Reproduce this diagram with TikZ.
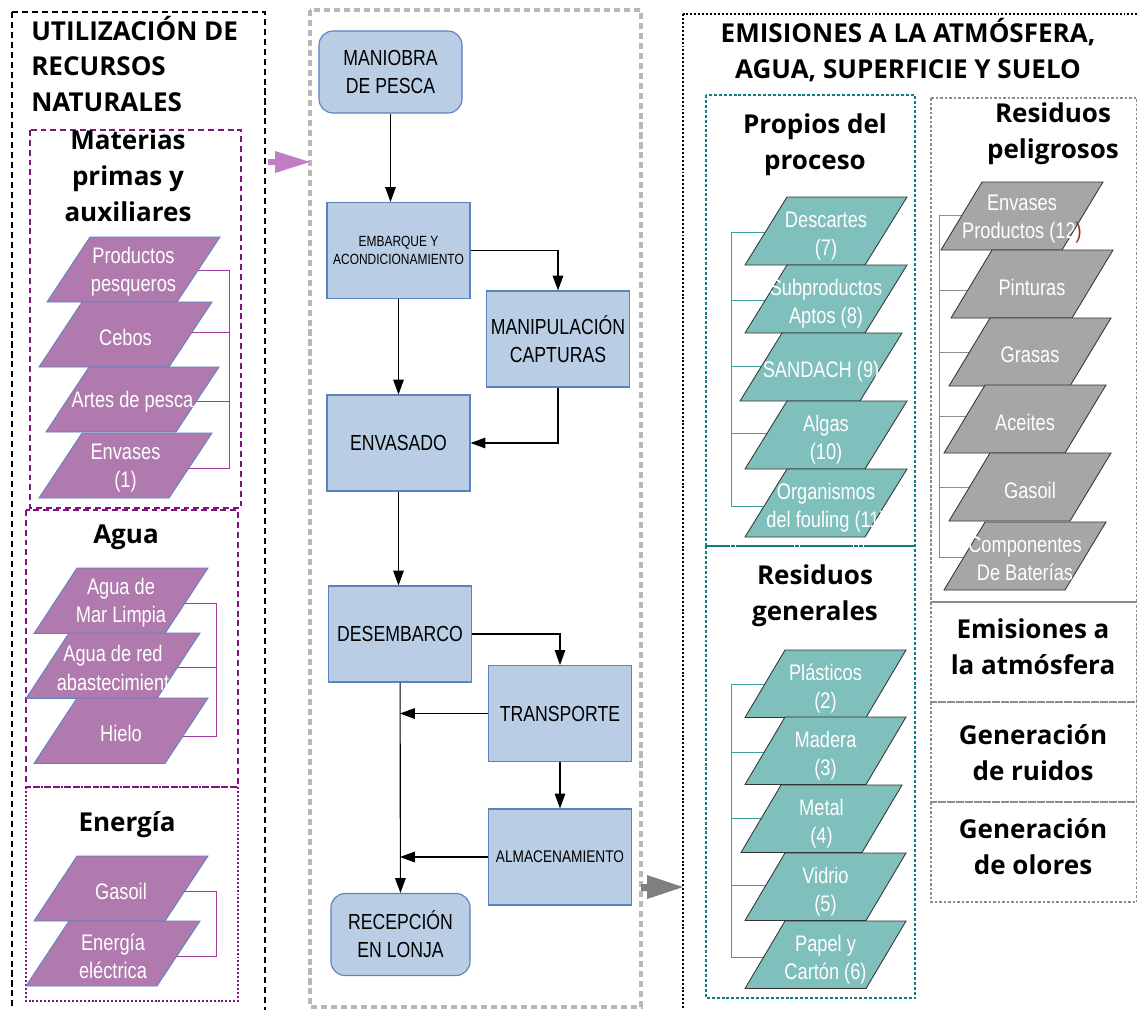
\documentclass[tikz,border=0pt]{standalone}
\usepackage{fontspec}
\setmainfont{Open Sans}
\newfontfamily\estrecha[FakeStretch=0.81]{Liberation Sans}
\usetikzlibrary{arrows.meta,positioning}

\definecolor{moradoR}{HTML}{B07AAE}
\definecolor{moradoL}{HTML}{7F1480}
\definecolor{moradoC}{HTML}{9E3CA0}
\definecolor{azulR}{HTML}{B9CDE5}
\definecolor{azulB}{HTML}{5A82BE}
\definecolor{verdeR}{HTML}{7FBFBC}
\definecolor{verdeL}{HTML}{0E7F7C}
\definecolor{verdeC}{HTML}{3C9E9A}
\definecolor{grisR}{HTML}{A6A6A6}
\definecolor{grisL}{HTML}{8C8C8C}
\definecolor{grisM}{HTML}{B8B8B8}
\definecolor{flechaM}{HTML}{C27EC2}
\definecolor{flechaG}{HTML}{7F7F7F}
\definecolor{rojoO}{HTML}{A02020}

\begin{document}
\begin{tikzpicture}[x=0.025cm, y=-0.025cm,
    titulo/.style={font=\fontsize{18.5}{25.5}\selectfont\bfseries, align=center, inner sep=0pt},
    proceso/.style={draw=azulB, fill=azulR, line width=0.8pt, minimum width=3.575cm,
        minimum height=2.4cm, align=center, inner sep=1pt, font=\estrecha\fontsize{15.5}{20}\selectfont},
    inicio/.style={proceso, rounded corners=10pt, minimum height=2.05cm},
    flecha/.style={-{Triangle[length=10.5pt,width=7.5pt]}, line width=0.8pt},
    partexto/.style={text=white, align=center, inner sep=0pt, font=\estrecha\fontsize{16}{20}\selectfont},
    parmorado/.style={fill=moradoR, draw=azulB, line width=0.6pt},
    parverde/.style={fill=verdeR, draw=black!80, line width=0.6pt},
    pargris/.style={fill=grisR, draw=black!80, line width=0.6pt},
    marcoMorado/.style={draw=moradoL, line width=1.5pt, dash pattern=on 4.2pt off 2.8pt},
    marcoVerde/.style={draw=verdeL, line width=1.4pt, dash pattern=on 2.1pt off 1.4pt},
    marcoGris/.style={draw=grisL, line width=1.1pt, dash pattern=on 1.8pt off 1.4pt}]

    \useasboundingbox[fill=white] (0,0) rectangle (1137,1009);

    % marcos de los bloques
    \draw[line width=1.6pt, dash pattern=on 4.3pt off 2.8pt] (12,12) rectangle (265,1030);
    \draw[grisM, line width=2.2pt, dash pattern=on 4.3pt off 2.8pt] (310,10) rectangle (641,1007);
    \draw[line width=1.5pt, dash pattern=on 1.4pt off 1.4pt] (683,14) rectangle (1160,1030);
    \draw[marcoMorado] (30,130) rectangle (241,508);
    \draw[marcoMorado] (26,510) rectangle (238,787);
    \draw[marcoMorado, dash pattern=on 1.4pt off 1.4pt] (26,787) rectangle (238,1001);
    \draw[marcoVerde] (706,95) rectangle (915,546);
    \draw[marcoVerde] (706,546) rectangle (915,998);
    \foreach \ya/\yb in {98/602, 602/702, 702/802, 802/902}
        \draw[marcoGris] (931,\ya) rectangle (1137,\yb);

    % titulos
    \node[titulo, align=left, anchor=west] (tRecursos) at (31,64) {UTILIZACIÓN DE\\RECURSOS\\NATURALES};
    \node[titulo] (tMaterias) at (128,176) {Materias\\primas y\\auxiliares};
    \node[titulo] (tAgua) at (126,537) {Agua};
    \node[titulo] (tEnergia) at (127,825) {Energía};
    \node[titulo] (tEmisiones) at (908,50) {EMISIONES A LA ATMÓSFERA,\\AGUA, SUPERFICIE Y SUELO};
    \node[titulo] (tPropios) at (815,145) {Propios del\\proceso};
    \node[titulo] (tGenerales) at (815,596) {Residuos\\generales};
    \node[titulo] (tPeligrosos) at (1053,134) {Residuos\\peligrosos};
    \node[titulo] (tAtmosfera) at (1033,647) {Emisiones a\\la atmósfera};
    \node[titulo] (tRuidos) at (1033,753) {Generación\\de ruidos};
    \node[titulo] (tOlores) at (1033,847) {Generación\\de olores};

    % corchetes
    \draw[moradoC, line width=0.7pt] (180,270) -| (229,468) -- (170,468) (185,332) -- (229,332) (185,401) -- (229,401);
    \draw[moradoC, line width=0.7pt] (170,603) -| (216,736) -- (160,736) (160,667) -- (216,667);
    \draw[moradoC, line width=0.7pt] (170,891) -| (216,956) -- (160,956);
    \draw[verdeC, line width=0.7pt] (775,232) -| (731,506) -- (775,506) foreach \y in {300,366,433} {(731,\y) -- (775,\y)};
    \draw[verdeC, line width=0.7pt] (775,684) -| (731,957) -- (775,957) foreach \y in {752,818,885} {(731,\y) -- (775,\y)};
    \draw[grisL, line width=0.7pt] (975,215) -| (939,557) -- (975,557) foreach \y in {290,352,416,487} {(939,\y) -- (975,\y)};

    % materias primas y auxiliares
    \foreach \x/\y/\txt [count=\i] in {90/237/{Productos\\pesqueros}, 82/302/Cebos,
        89/367/{Artes de pesca}, 82/433/{Envases\\(1)}} {
        \draw[parmorado] (\x,\y) -- ++(130,0) -- ++(-43,65) -- ++(-130,0) -- cycle;
        \node[partexto] (mp\i) at (\x+43.5,\y+35) {\txt};
    }
    % agua
    \foreach \x/\y/\txt [count=\i] in {77/568/{Agua de\\Mar Limpia}, 69/633/{Agua de red\\abastecimient}, 77/698/Hielo} {
        \draw[parmorado] (\x,\y) -- ++(131,0) -- ++(-43,65.5) -- ++(-131,0) -- cycle;
        \node[partexto] (ag\i) at (\x+44,\y+35) {\txt};
    }
    % energia
    \foreach \x/\y/\txt [count=\i] in {77/856/Gasoil, 69/921/{Energía\\eléctrica}} {
        \draw[parmorado] (\x,\y) -- ++(131,0) -- ++(-43,65) -- ++(-131,0) -- cycle;
        \node[partexto] (en\i) at (\x+44,\y+35) {\txt};
    }

    % propios del proceso
    \foreach \x/\y/\txt [count=\i] in {787/197/{Descartes\\(7)}, 787/265/{Subproductos\\Aptos (8)},
        782/333/{SANDACH (9)}, 787/401/{Algas\\(10)}, 787/469/{Organismos\\del fouling (11)}} {
        \draw[parverde] (\x,\y) -- ++(120,0) -- ++(-42,68) -- ++(-120,0) -- cycle;
        \node[partexto] (pp\i) at (\x+39,\y+39) {\txt};
    }
    % residuos generales
    \foreach \x/\y/\txt [count=\i] in {785/650/{Plásticos\\(2)}, 785/717/{Madera\\(3)},
        781/785/{Metal\\(4)}, 785/853/{Vidrio\\(5)}, 785/921/{Papel y\\Cartón (6)}} {
        \draw[parverde] (\x,\y) -- ++(121,0) -- ++(-40,67.5) -- ++(-121,0) -- cycle;
        \node[partexto] (rg\i) at (\x+40.5,\y+38.5) {\txt};
    }
    % residuos peligrosos
    \foreach \x/\y/\txt [count=\i] in {982/182/{Envases\\Productos (12\textcolor{rojoO}{)}}, 992/250/Pinturas,
        990/318/Grasas, 985/385/Aceites, 990/453/Gasoil, 985/522/{Componentes\\De Baterías}} {
        \draw[pargris] (\x,\y) -- ++(121,0) -- ++(-41,68) -- ++(-121,0) -- cycle;
        \node[partexto] (rp\i) at (\x+40,\y+37) {\txt};
    }

    % etapas del proceso
    \node[inicio] (maniobra) at (390.5,72) {MANIOBRA\\DE PESCA};
    \node[proceso, font=\estrecha\fontsize{10.5}{13}\selectfont] (embarque) at (398.5,250.5) {EMBARQUE Y\\ACONDICIONAMIENTO};
    \node[proceso] (manipulacion) at (558,339) {MANIPULACIÓN\\CAPTURAS};
    \node[proceso] (envasado) at (398.5,443) {ENVASADO};
    \node[proceso] (desembarco) at (400,634) {DESEMBARCO};
    \node[proceso] (transporte) at (560,713.5) {TRANSPORTE};
    \node[proceso, font=\estrecha\fontsize{12}{14}\selectfont] (almacen) at (560,857) {ALMACENAMIENTO};
    \node[inicio, minimum width=3.475cm] (recepcion) at (400.5,934.5) {RECEPCIÓN\\EN LONJA};

    % flechas
    \draw[flecha] (maniobra) -- (maniobra.south |- embarque.north);
    \draw[flecha] (embarque.east) -| (manipulacion.north);
    \draw[flecha] (embarque) -- (envasado);
    \draw[flecha] (manipulacion.south) |- (envasado.east);
    \draw[flecha] (envasado.south) -- (envasado.south |- desembarco.north);
    \draw[flecha] (desembarco.east) -| (transporte.north);
    \draw[flecha] (desembarco) -- (recepcion);
    \draw[flecha] (transporte.west) -- (transporte.west -| desembarco.south);
    \draw[flecha] (transporte) -- (almacen);
    \draw[flecha] (almacen.west) -- (almacen.west -| desembarco.south);

    % flechas gruesas entre bloques
    \fill[flechaM] (268,159) -- (275,159) -- (275,151) -- (310,162) -- (275,173) -- (275,165) -- (268,165) -- cycle;
    \fill[flechaG] (641,884) -- (647,884) -- (647,875) -- (683,887) -- (647,899) -- (647,891) -- (641,891) -- cycle;
\end{tikzpicture}
\end{document}
